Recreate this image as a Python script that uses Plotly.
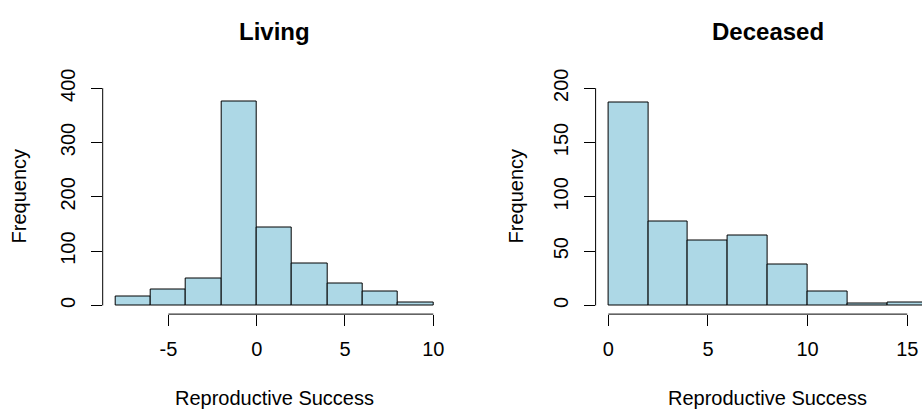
import plotly.graph_objects as go

# Histogram data: bin edges and counts
living_edges = [-8, -6, -4, -2, 0, 2, 4, 6, 8, 10]
living_counts = [16, 29, 50, 375, 144, 78, 40, 26, 6]

deceased_edges = [0, 2, 4, 6, 8, 10, 12, 14, 16]
deceased_counts = [187, 77, 60, 64, 38, 13, 2, 3]

living_xticks = [-5, 0, 5, 10]
living_xlabels = ["-5", "0", "5", "10"]
living_yticks = [0, 100, 200, 300, 400]
deceased_xticks = [0, 5, 10, 15]
deceased_xlabels = ["0", "5", "10", "15"]
deceased_yticks = [0, 50, 100, 150, 200]

W, H = 922, 409
FONT = "Liberation Sans, Arial, Helvetica, sans-serif"
FILL = "#ADD8E6"


def fx(p):
    return p / W


def fy(p):
    return 1 - p / H


y_dom = [fy(311.5), fy(70.4)]
x1_dom = [fx(102.7), fx(446.0)]
x2_dom = [fx(595.6), 1.0]


def bins(edges, counts):
    centers = [(a + b) / 2 for a, b in zip(edges[:-1], edges[1:])]
    widths = [b - a for a, b in zip(edges[:-1], edges[1:])]
    return centers, widths


fig = go.Figure()

for edges, counts, xa, ya in [
    (living_edges, living_counts, "x", "y"),
    (deceased_edges, deceased_counts, "x2", "y2"),
]:
    cx, wd = bins(edges, counts)
    fig.add_trace(go.Bar(
        x=cx, y=counts, width=wd, xaxis=xa, yaxis=ya,
        marker=dict(color=FILL, line=dict(color="black", width=1)),
        showlegend=False, hoverinfo="x+y",
    ))

tick_font = dict(family=FONT, size=20, color="black")
axis_common = dict(
    showgrid=False, zeroline=False, showline=False,
    ticks="outside", ticklen=11, tickwidth=1, tickcolor="black",
    tickfont=tick_font,
)

fig.update_layout(
    width=W, height=H,
    margin=dict(l=0, r=0, t=0, b=0),
    paper_bgcolor="white", plot_bgcolor="white",
    bargap=0,
    xaxis=dict(domain=x1_dom, range=[-8.72, 10.72], anchor="y",
               tickvals=living_xticks, ticktext=living_xlabels,
               ticklabelstandoff=6, **axis_common),
    yaxis=dict(domain=y_dom, range=[-16, 416], anchor="x",
               tickvals=living_yticks, tickangle=-90,
               ticklabelstandoff=8, **axis_common),
    xaxis2=dict(domain=x2_dom, range=[-0.64, 15.74], anchor="y2",
                tickvals=deceased_xticks, ticktext=deceased_xlabels,
                ticklabelstandoff=6, **axis_common),
    yaxis2=dict(domain=y_dom, range=[-8, 208], anchor="x2",
                tickvals=deceased_yticks, tickangle=-90,
                ticklabelstandoff=8, **axis_common),
)

# R-style axis lines spanning only the first to the last tick
line = dict(color="black", width=1)
shapes = [
    dict(type="line", xref="x", yref="paper", x0=living_xticks[0], x1=living_xticks[-1],
         y0=y_dom[0], y1=y_dom[0], line=line),
    dict(type="line", xref="paper", yref="y", x0=x1_dom[0], x1=x1_dom[0],
         y0=living_yticks[0], y1=living_yticks[-1], line=line),
    dict(type="line", xref="x2", yref="paper", x0=deceased_xticks[0], x1=deceased_xticks[-1],
         y0=y_dom[0], y1=y_dom[0], line=line),
    dict(type="line", xref="paper", yref="y2", x0=x2_dom[0], x1=x2_dom[0],
         y0=deceased_yticks[0], y1=deceased_yticks[-1], line=line),
]
fig.update_layout(shapes=shapes)

title_font = dict(family=FONT, size=24, color="black", weight="bold")
label_font = dict(family=FONT, size=20, color="black")
ann = [
    dict(text="<b>Living</b>", x=fx(274.3), y=fy(21.5), font=title_font),
    dict(text="<b>Deceased</b>", x=fx(767.7), y=fy(21.5), font=title_font),
    dict(text="Reproductive Success", x=fx(274.3), y=fy(398), font=label_font),
    dict(text="Reproductive Success", x=fx(767.7), y=fy(398), font=label_font),
    dict(text="Frequency", x=fx(19), y=fy(190.5), font=label_font, textangle=-90),
    dict(text="Frequency", x=fx(516), y=fy(190.5), font=label_font, textangle=-90),
]
for a in ann:
    a.update(xref="paper", yref="paper", showarrow=False,
             xanchor="center", yanchor="middle")
fig.update_layout(annotations=ann)

fig.write_html("out.html")
